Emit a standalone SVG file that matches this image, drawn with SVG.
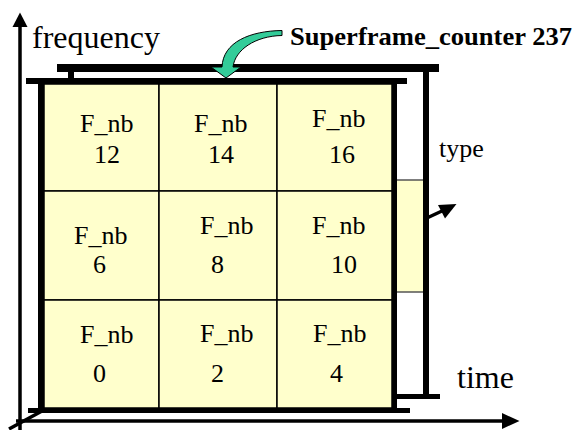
<svg xmlns="http://www.w3.org/2000/svg" width="575" height="430" viewBox="0 0 575 430">
<style>
.cell{fill:#FFFFCC;stroke:#000;stroke-width:1.5}
.bar{fill:#000}
text{fill:#000;font-family:'Liberation Serif','Times New Roman',serif}
.c{font-size:26px}
.big{font-size:32px}
.b{font-size:26px;font-weight:bold}
.ax{stroke:#000;stroke-width:3.5;fill:none}
</style>
<rect width="575" height="430" fill="#fff"/>
<g id="grid">
<g id="cell-12"><rect class="cell" x="44" y="84" width="115" height="107"/><text class="c" x="80" y="132">F_nb</text><text class="c" x="94" y="163">12</text></g>
<g id="cell-14"><rect class="cell" x="159" y="84" width="118" height="107"/><text class="c" x="194" y="132">F_nb</text><text class="c" x="208" y="163">14</text></g>
<g id="cell-16"><rect class="cell" x="277" y="84" width="115" height="107"/><text class="c" x="312" y="127">F_nb</text><text class="c" x="329" y="163">16</text></g>
<g id="cell-6"><rect class="cell" x="44" y="191" width="115" height="109"/><text class="c" x="74" y="244">F_nb</text><text class="c" x="93" y="273">6</text></g>
<g id="cell-8"><rect class="cell" x="159" y="191" width="118" height="109"/><text class="c" x="200" y="234">F_nb</text><text class="c" x="211" y="273">8</text></g>
<g id="cell-10"><rect class="cell" x="277" y="191" width="115" height="109"/><text class="c" x="312" y="234">F_nb</text><text class="c" x="331" y="273">10</text></g>
<g id="cell-0"><rect class="cell" x="44" y="300" width="115" height="108"/><text class="c" x="80" y="343">F_nb</text><text class="c" x="93" y="382">0</text></g>
<g id="cell-2"><rect class="cell" x="159" y="300" width="118" height="108"/><text class="c" x="200" y="342">F_nb</text><text class="c" x="211" y="382">2</text></g>
<g id="cell-4"><rect class="cell" x="277" y="300" width="115" height="108"/><text class="c" x="313" y="342">F_nb</text><text class="c" x="330" y="382">4</text></g>
</g>
<g id="frame">
<rect class="bar" x="57" y="64" width="382" height="8"/>
<rect class="bar" x="68" y="72" width="6" height="6"/>
<rect class="bar" x="26" y="78" width="381" height="6"/>
<rect class="bar" x="38" y="78" width="6" height="335"/>
<rect class="bar" x="392" y="84" width="5" height="324"/>
<rect class="bar" x="28" y="408" width="382" height="5"/>
<rect class="bar" x="423" y="72" width="6" height="327"/>
<rect class="bar" x="397" y="394" width="43" height="5"/>
</g>
<g id="type-box">
<rect x="397" y="180" width="26" height="112" fill="#FFFFCC"/>
<line x1="397" y1="180" x2="423" y2="180" stroke="#555" stroke-width="1.5"/>
<line x1="397" y1="292" x2="423" y2="292" stroke="#555" stroke-width="1.5"/>
</g>
<g id="labels">
<text class="big" x="32" y="48">frequency</text>
<text class="big" x="457" y="388">time</text>
<text class="c" x="439" y="157">type</text>
<text class="b" x="290" y="45" textLength="282" lengthAdjust="spacingAndGlyphs">Superframe_counter 237</text>
</g>
<g id="connectors">
<line class="ax" x1="20" y1="430" x2="20" y2="26"/>
<polygon points="12.5,27 20,12.5 27.5,27" fill="#000"/>
<line class="ax" x1="16" y1="421" x2="503" y2="421"/>
<polygon points="502,413 519.5,421 502,429" fill="#000"/>
<line class="ax" x1="9" y1="429" x2="42" y2="411"/>
<line class="ax" x1="428" y1="217.5" x2="443" y2="210.5"/>
<polygon points="438,205 456.5,204 445,218.5" fill="#000"/>
<path d="M282,30.5 C250,31 223,42 222,67 L211,67 L226,78 L241,67 L233,67 C235,50 255,36 282,35.5 Z" fill="#33CC99" stroke="#000" stroke-width="1"/>
</g>
</svg>
